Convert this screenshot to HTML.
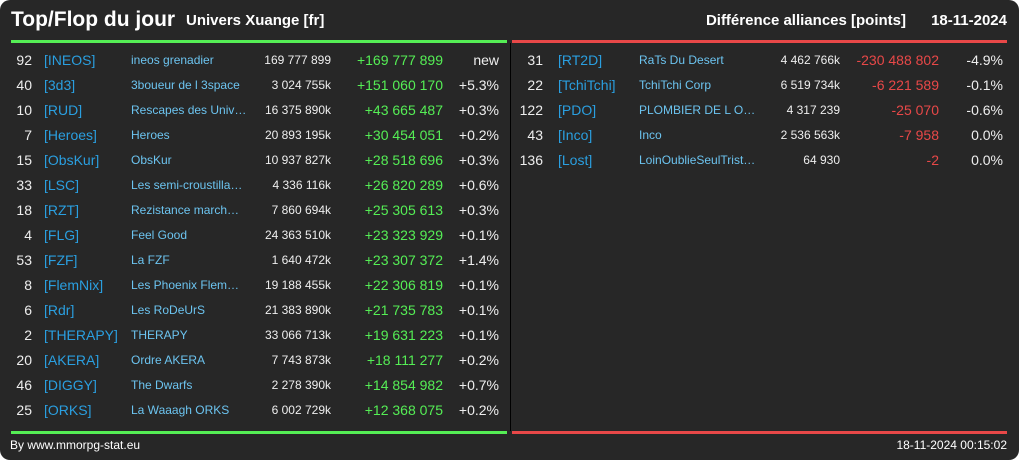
<!DOCTYPE html>
<html><head><meta charset="utf-8"><style>
body{margin:0;width:1019px;height:460px;background:#fff;font-family:"Liberation Sans",sans-serif;overflow:hidden}
#card{position:absolute;left:0;top:0;width:1019px;height:460px;background:#272727;border-radius:10px}
.t{position:absolute;white-space:nowrap;line-height:1}
</style></head><body>
<div id="card">
<div class="t" style="left:11px;top:9px;font-size:21px;font-weight:bold;color:#fff">Top/Flop du jour</div>
<div class="t" style="left:186px;top:13px;font-size:15px;font-weight:bold;color:#fff">Univers Xuange [fr]</div>
<div class="t" style="right:113px;top:13px;font-size:15px;font-weight:bold;color:#fff">Différence alliances [points]</div>
<div class="t" style="right:12px;top:13px;font-size:15px;font-weight:bold;color:#fff">18-11-2024</div>
<div style="position:absolute;left:11px;top:40px;width:496px;height:3px;background:#55ee55"></div>
<div style="position:absolute;left:512px;top:40px;width:495px;height:3px;background:#e84848"></div>
<div style="position:absolute;left:510px;top:43px;width:1px;height:388px;background:#000"></div>
<div style="position:absolute;left:11px;top:431px;width:496px;height:3px;background:#55ee55"></div>
<div style="position:absolute;left:512px;top:431px;width:495px;height:3px;background:#e84848"></div>
<div class="t" style="left:10px;top:439px;font-size:12px;color:#fff">By www.mmorpg-stat.eu</div>
<div class="t" style="right:12px;top:439px;font-size:12px;color:#fff">18-11-2024 00:15:02</div>
</div>
<script>
const topRanks=["92","40","10","7","15","33","18","4","53","8","6","2","20","46","25"];
const topTags=["[INEOS]","[3d3]","[RUD]","[Heroes]","[ObsKur]","[LSC]","[RZT]","[FLG]","[FZF]","[FlemNix]","[Rdr]","[THERAPY]","[AKERA]","[DIGGY]","[ORKS]"];
const topNames=["ineos grenadier","3boueur de l 3space","Rescapes des Univ…","Heroes","ObsKur","Les semi-croustilla…","Rezistance march…","Feel Good","La FZF","Les Phoenix Flem…","Les RoDeUrS","THERAPY","Ordre AKERA","The Dwarfs","La Waaagh ORKS"];
const topValues=["169 777 899","3 024 755k","16 375 890k","20 893 195k","10 937 827k","4 336 116k","7 860 694k","24 363 510k","1 640 472k","19 188 455k","21 383 890k","33 066 713k","7 743 873k","2 278 390k","6 002 729k"];
const topDiffs=["+169 777 899","+151 060 170","+43 665 487","+30 454 051","+28 518 696","+26 820 289","+25 305 613","+23 323 929","+23 307 372","+22 306 819","+21 735 783","+19 631 223","+18 111 277","+14 854 982","+12 368 075"];
const topPcts=["new","+5.3%","+0.3%","+0.2%","+0.3%","+0.6%","+0.3%","+0.1%","+1.4%","+0.1%","+0.1%","+0.1%","+0.2%","+0.7%","+0.2%"];
const flopRanks=["31","22","122","43","136"];
const flopTags=["[RT2D]","[TchiTchi]","[PDO]","[Inco]","[Lost]"];
const flopNames=["RaTs Du Desert","TchiTchi Corp","PLOMBIER DE L O…","Inco","LoinOublieSeulTrist…"];
const flopValues=["4 462 766k","6 519 734k","4 317 239","2 536 563k","64 930"];
const flopDiffs=["-230 488 802","-6 221 589","-25 070","-7 958","-2"];
const flopPcts=["-4.9%","-0.1%","-0.6%","0.0%","0.0%"];
const card=document.getElementById('card');
function cell(txt,x,right,y,size,color,name){
  const d=document.createElement('div');
  d.className='t';
  d.textContent=txt;
  d.style.fontSize=size+'px';d.style.color=color;d.style.top=(y-size*0.5)+'px';
  if(right){d.style.right=(1019-x)+'px';}else{d.style.left=x+'px';}
  
  
  card.appendChild(d);
}
function table(ranks,tags,names,vals,diffs,pcts,c,diffColor,prefix){
  for(let i=0;i<ranks.length;i++){
    const y=60+i*25;
    cell(ranks[i],c[0],true,y,14,'#eee',prefix+'-rank');
    cell(tags[i],c[1],false,y,14,'#2a9fe0',prefix+'-tag');
    cell(names[i],c[2],false,y,12,'#6cc4f0',prefix+'-name');
    cell(vals[i],c[3],true,y,12,'#eee',prefix+'-value');
    cell(diffs[i],c[4],true,y,14,diffColor,prefix+'-diff');
    cell(pcts[i],c[5],true,y,14,'#eee',prefix+'-pct');
  }
}
table(topRanks,topTags,topNames,topValues,topDiffs,topPcts,[32,44,131,331,443,499],'#55ee55','top-row');
table(flopRanks,flopTags,flopNames,flopValues,flopDiffs,flopPcts,[543,558,639,840,939,1003],'#e84848','flop-row');
</script>
</body></html>
